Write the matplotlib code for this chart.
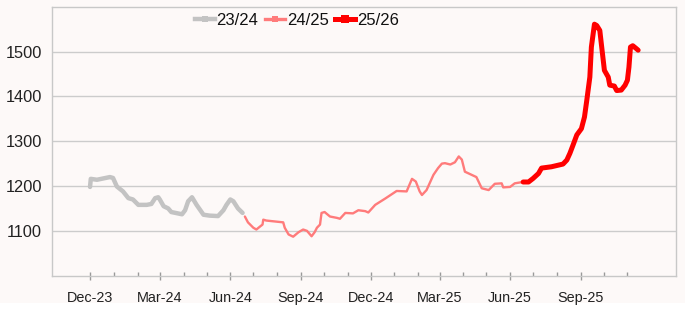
import matplotlib
matplotlib.use("Agg")
import matplotlib.pyplot as plt
import matplotlib.dates as mdates
from matplotlib.lines import Line2D
from matplotlib.patches import Rectangle
import pandas as pd

# ---- data ----
s2324_dates = ["2023-12-01", "2023-12-02", "2023-12-10", "2023-12-27", "2023-12-31",
               "2024-01-05", "2024-01-13", "2024-01-20", "2024-01-26", "2024-02-02",
               "2024-02-13", "2024-02-19", "2024-02-24", "2024-02-28", "2024-03-01",
               "2024-03-06", "2024-03-12", "2024-03-16", "2024-03-30", "2024-04-03",
               "2024-04-07", "2024-04-12", "2024-04-18", "2024-04-27", "2024-05-05",
               "2024-05-16", "2024-05-23", "2024-05-27", "2024-06-01", "2024-06-05",
               "2024-06-11", "2024-06-17"]
s2324_vals = [1198, 1216, 1214, 1220, 1218,
              1199, 1188, 1173, 1170, 1158,
              1158, 1160, 1173, 1175, 1170,
              1155, 1150, 1142, 1137, 1146,
              1166, 1175, 1158, 1136, 1134,
              1133, 1146, 1158, 1170, 1166,
              1150, 1140]

s2425_dates = ["2024-06-20", "2024-06-24", "2024-07-01", "2024-07-05", "2024-07-10",
               "2024-07-13", "2024-07-14", "2024-07-18", "2024-08-09", "2024-08-11",
               "2024-08-16", "2024-08-22", "2024-08-29", "2024-09-04", "2024-09-09",
               "2024-09-15", "2024-09-19", "2024-09-22", "2024-09-26", "2024-09-28",
               "2024-10-02", "2024-10-09", "2024-10-18", "2024-10-22", "2024-10-29",
               "2024-11-08", "2024-11-15", "2024-11-24", "2024-11-28", "2024-12-07",
               "2024-12-20", "2025-01-04", "2025-01-17", "2025-01-24", "2025-01-29",
               "2025-02-03", "2025-02-06", "2025-02-12", "2025-02-21", "2025-02-27",
               "2025-03-04", "2025-03-08", "2025-03-15", "2025-03-21", "2025-03-26",
               "2025-03-30", "2025-04-03", "2025-04-18", "2025-04-25", "2025-05-04",
               "2025-05-08", "2025-05-12", "2025-05-21", "2025-05-23", "2025-06-01",
               "2025-06-07", "2025-06-14", "2025-06-18"]
s2425_vals = [1132, 1119, 1107, 1103, 1110,
              1114, 1125, 1123, 1119, 1107,
              1092, 1087, 1097, 1103, 1100,
              1088, 1097, 1107, 1114, 1140,
              1142, 1132, 1129, 1127, 1140,
              1139, 1146, 1144, 1141, 1158,
              1172, 1189, 1188, 1216, 1210,
              1188, 1180, 1191, 1225, 1240,
              1250, 1251, 1248, 1253, 1266,
              1259, 1232, 1220, 1195, 1191,
              1198, 1205, 1206, 1197, 1198,
              1206, 1208, 1209]

s2526_dates = ["2025-06-18", "2025-06-25", "2025-07-01", "2025-07-08", "2025-07-12",
               "2025-07-25", "2025-08-09", "2025-08-14", "2025-08-18", "2025-08-22",
               "2025-08-27", "2025-09-02", "2025-09-06", "2025-09-09", "2025-09-13",
               "2025-09-15", "2025-09-19", "2025-09-22", "2025-09-26", "2025-09-28",
               "2025-10-02", "2025-10-07", "2025-10-09", "2025-10-15", "2025-10-18",
               "2025-10-24", "2025-10-29", "2025-11-01", "2025-11-03", "2025-11-05",
               "2025-11-08", "2025-11-13", "2025-11-15"]
s2526_vals = [1209, 1209, 1217, 1228, 1240,
              1243, 1249, 1258, 1273, 1291,
              1314, 1328, 1354, 1391, 1443,
              1510, 1561, 1558, 1547, 1517,
              1458, 1443, 1425, 1423, 1413,
              1414, 1425, 1436, 1465, 1510,
              1513, 1506, 1503]

series_labels = ["23/24", "24/25", "25/26"]
y_ticks = [1100, 1200, 1300, 1400, 1500]
major_ticks = pd.date_range("2023-12-01", "2025-09-01", freq="3MS")
minor_ticks = pd.date_range("2023-12-01", "2025-11-01", freq="MS")

# ---- figure ----
bg = "#fdf9f8"
fig = plt.figure(figsize=(6.85, 3.27), dpi=100, facecolor="white")
fig.patches.append(Rectangle((0, 1 - 303 / 327), 1, 303 / 327, transform=fig.transFigure,
                             facecolor=bg, edgecolor="none", zorder=-10))
ax = fig.add_axes([51.7 / 685, 1 - 275.7 / 327, 624 / 685, 269 / 327])
ax.set_facecolor(bg)

colors = ["#c3c3c3", "#ff7b7b", "#ff0000"]
widths = [3.2, 1.7, 3.6]
data = [(s2324_dates, s2324_vals), (s2425_dates, s2425_vals), (s2526_dates, s2526_vals)]
for (d, v), c, w in zip(data, colors, widths):
    ax.plot(pd.to_datetime(d), v, color=c, lw=w, solid_joinstyle="round",
            solid_capstyle="round", zorder=3)

ax.set_ylim(1000, 1600)
ax.set_yticks(y_ticks)
ax.set_xlim(pd.Timestamp("2023-10-12"), pd.Timestamp("2026-01-03"))
ax.set_xticks(major_ticks)
ax.set_xticks(minor_ticks, minor=True)
ax.xaxis.set_major_formatter(mdates.DateFormatter("%b-%y"))

ax.grid(axis="y", color="#cccccc", lw=1.0)
ax.set_axisbelow(True)
for s in ax.spines.values():
    s.set_color("#c8c8c8")
    s.set_linewidth(1.0)

font = "Liberation Sans"
ax.tick_params(axis="y", length=0, pad=7, labelsize=11.8, labelcolor="#222222")
ax.tick_params(axis="x", which="major", direction="inout", length=6, width=1,
               color="#999999", pad=8, labelsize=10.4, labelcolor="#222222")
ax.tick_params(axis="x", which="minor", direction="in", length=3, width=1,
               color="#999999")
for lab in ax.get_xticklabels() + ax.get_yticklabels():
    lab.set_fontfamily(font)

handles = [Line2D([], [], color=c, lw=w, marker="s", markersize=m, markeredgewidth=0)
           for c, w, m in zip(colors, [3.2, 2.4, 3.6], [5, 4, 6])]
leg = ax.legend(handles, series_labels, loc="center", bbox_to_anchor=(0.393, 0.948),
                ncol=3, frameon=False, handlelength=1.2, handletextpad=0.1,
                columnspacing=0.4, prop={"family": font, "size": 12})
for t in leg.get_texts():
    t.set_color("#111111")

fig.savefig("out.png", dpi=100, facecolor=fig.get_facecolor())
